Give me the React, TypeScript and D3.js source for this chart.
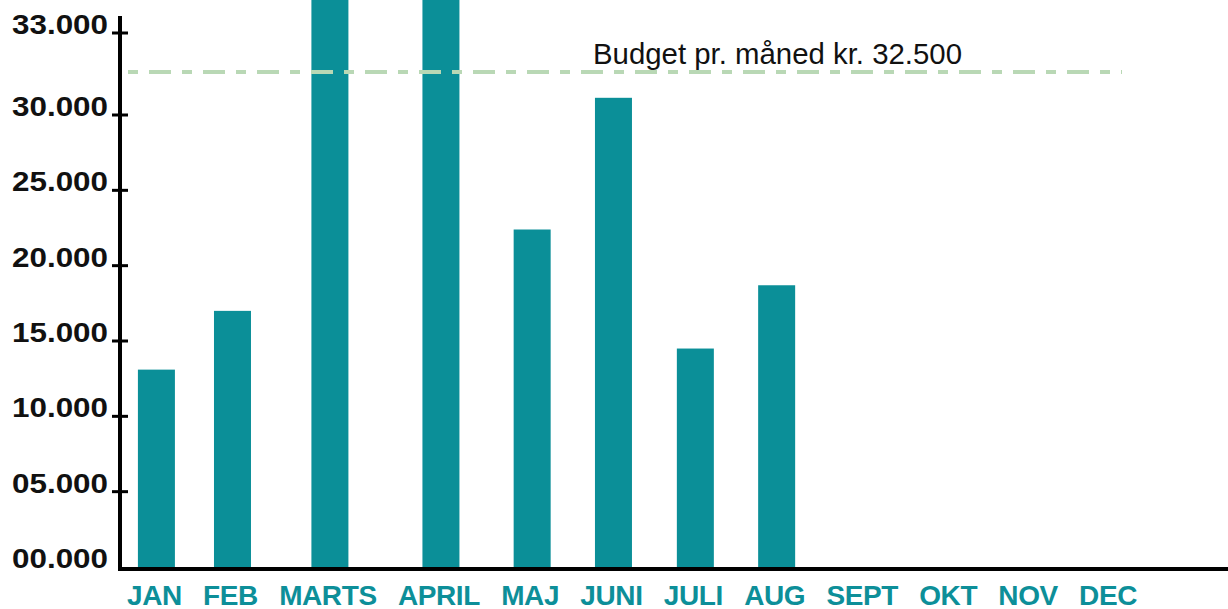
import React, { useEffect, useRef } from "react";
import * as d3 from "d3";

const months = ["JAN", "FEB", "MARTS", "APRIL", "MAJ", "JUNI", "JULI", "AUG", "SEPT", "OKT", "NOV", "DEC"];
const spending = [13100, 17000, 36000, 38000, 22400, 31000, 14500, 18700, null, null, null, null];
const tickValues = [0, 5000, 10000, 15000, 20000, 25000, 30000, 33000];
const tickLabels = ["00.000", "05.000", "10.000", "15.000", "20.000", "25.000", "30.000", "33.000"];
const budget = 32500;
const budgetLabel = "Budget pr. måned kr. 32.500";

const W = 1228;
const H = 609;
const BAR = "#0b8f98";
const FONT = "'Liberation Sans', Arial, Helvetica, sans-serif";

export default function App() {
  const ref = useRef<SVGSVGElement | null>(null);

  useEffect(() => {
    const svg = d3.select(ref.current);
    svg.selectAll("*").remove();

    // hand-drawn chart: axis is piecewise linear near the top
    const y = d3.scaleLinear().domain([0, 30000, 32500, 33000]).range([567, 115, 72, 33]);
    const axisX = 120;

    // month labels laid out as a row of text, measured
    const labelRow = { start: 127, end: 1137, baseline: 605 };
    const labels = svg
      .append("g")
      .selectAll("text")
      .data(months)
      .join("text")
      .attr("font-family", FONT)
      .attr("font-weight", "bold")
      .attr("font-size", 28)
      .attr("letter-spacing", -0.4)
      .attr("fill", "#0d8f99")
      .attr("y", labelRow.baseline)
      .text((d) => d);
    const widths: number[] = [];
    labels.each(function () {
      widths.push((this as SVGTextElement).getComputedTextLength());
    });
    const totalW = d3.sum(widths);
    const gap = (labelRow.end - labelRow.start - totalW) / (months.length - 1);
    const centers: number[] = [];
    let cx = labelRow.start;
    widths.forEach((w) => {
      centers.push(cx + w / 2);
      cx += w + gap;
    });
    const x = d3.scaleOrdinal<string, number>().domain(months).range(centers);
    labels.attr("x", (d) => x(d)).attr("text-anchor", "middle");

    // bars
    const barW = 37;
    svg
      .append("g")
      .selectAll("rect")
      .data(months.map((m, i) => ({ m, v: spending[i] })).filter((d) => d.v != null))
      .join("rect")
      .attr("x", (d) => x(d.m) - barW / 2 + 2)
      .attr("width", barW)
      .attr("y", (d) => y(d.v as number))
      .attr("height", (d) => y(0) - y(d.v as number))
      .attr("fill", BAR);

    // budget line
    svg
      .append("line")
      .attr("x1", 128)
      .attr("x2", 1122)
      .attr("y1", y(budget))
      .attr("y2", y(budget))
      .attr("stroke", "#b9d8b5")
      .attr("stroke-width", 4)
      .attr("stroke-dasharray", "10 11 22 11");
    svg
      .append("text")
      .attr("x", 593)
      .attr("y", y(budget) - 8)
      .attr("font-family", FONT)
      .attr("font-size", 29)
      .attr("textLength", 369)
      .attr("lengthAdjust", "spacingAndGlyphs")
      .attr("fill", "#111")
      .text(budgetLabel);

    // axes
    svg
      .append("line")
      .attr("x1", axisX - 2)
      .attr("x2", W)
      .attr("y1", y(0) + 2)
      .attr("y2", y(0) + 2)
      .attr("stroke", "#000")
      .attr("stroke-width", 4);
    svg
      .append("line")
      .attr("x1", axisX)
      .attr("x2", axisX)
      .attr("y1", 16)
      .attr("y2", y(0) + 4)
      .attr("stroke", "#000")
      .attr("stroke-width", 4);

    const ticks = svg.append("g");
    ticks
      .selectAll("line")
      .data(tickValues.filter((v) => v > 0))
      .join("line")
      .attr("x1", axisX - 8)
      .attr("x2", axisX + 8)
      .attr("y1", (d) => y(d))
      .attr("y2", (d) => y(d))
      .attr("stroke", "#000")
      .attr("stroke-width", 3);
    ticks
      .selectAll("text")
      .data(tickValues)
      .join("text")
      .attr("x", 108)
      .attr("y", (d) => y(d) + 1)
      .attr("text-anchor", "end")
      .attr("font-family", FONT)
      .attr("font-weight", "bold")
      .attr("font-size", 28)
      .attr("textLength", 96)
      .attr("lengthAdjust", "spacingAndGlyphs")
      .attr("fill", "#111")
      .text((d, i) => tickLabels[i]);
  }, []);

  return (
    <svg
      ref={ref}
      width={W}
      height={H}
      style={{ position: "absolute", left: 0, top: 0, background: "#fff", overflow: "hidden" }}
    />
  );
}
